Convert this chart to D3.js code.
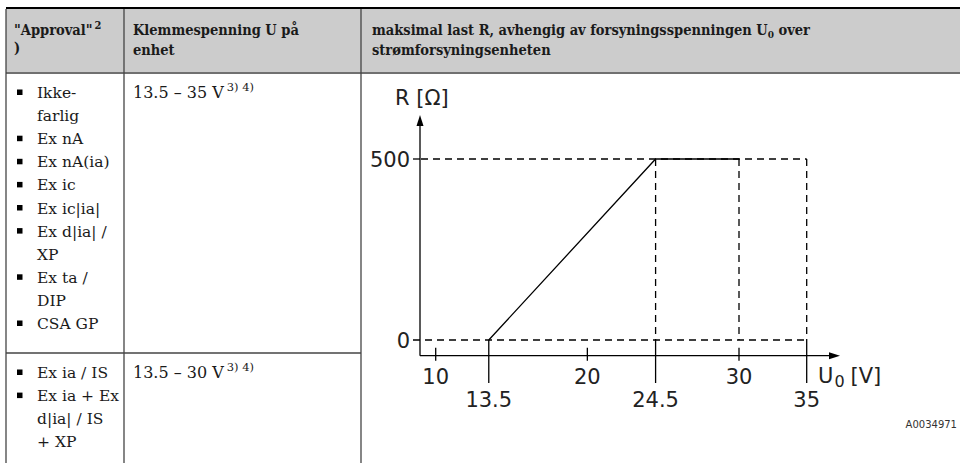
<!DOCTYPE html>
<html><head><meta charset="utf-8">
<script src="https://cdn.jsdelivr.net/npm/d3@7"></script>
<style>
html,body{margin:0;padding:0;background:#fff;}
svg{display:block;}
.tbl{font-family:"DejaVu Serif Condensed","DejaVu Serif",serif;fill:#1a1a1a;}
.body{font-family:"DejaVu Serif",serif;}
.chart{font-family:"DejaVu Sans",sans-serif;fill:#222;}
</style></head>
<body>
<svg id="c" width="960" height="463"></svg>
<script>
// ---- data ----
const headers = [["\"Approval\"", ")"], ["Klemmespenning U på", "enhet"], ["maksimal last R, avhengig av forsyningsspenningen U", "strømforsyningsenheten"]];
const row1Approvals = [["Ikke-", "farlig"], ["Ex nA"], ["Ex nA(ia)"], ["Ex ic"], ["Ex ic|ia|"], ["Ex d|ia| /", "XP"], ["Ex ta /", "DIP"], ["CSA GP"]];
const row2Approvals = [["Ex ia / IS"], ["Ex ia + Ex", "d|ia| / IS", "+ XP"]];
const voltageRanges = ["13.5 – 35 V", "13.5 – 30 V"];
const voltageNotes = "3) 4)";
// load curve: supply voltage U0 [V] vs max load R [Ohm]
const curveU = [13.5, 24.5, 30];
const curveR = [0, 500, 500];
const limitU = 35;
const xTicksTop = [10, 20, 30];
const xTicksBottom = [13.5, 24.5, 35];
const yTicks = [0, 500];
const figureId = "A0034971";

const svg = d3.select("#c");

// ---- table ----
svg.append("rect").attr("x", 6).attr("y", 8).attr("width", 954).attr("height", 65).attr("fill", "#cccccc");
svg.append("line").attr("x1", 6).attr("x2", 960).attr("y1", 8).attr("y2", 8).attr("stroke", "#000").attr("stroke-width", 2);
svg.append("line").attr("x1", 6).attr("x2", 960).attr("y1", 73).attr("y2", 73).attr("stroke", "#707070").attr("stroke-width", 2);
[6, 124, 361].forEach(x => svg.append("line").attr("x1", x).attr("x2", x).attr("y1", 9).attr("y2", 463).attr("stroke", "#444").attr("stroke-width", 1.3));
svg.append("line").attr("x1", 6).attr("x2", 361).attr("y1", 353).attr("y2", 353).attr("stroke", "#444").attr("stroke-width", 1.3);

const tg = svg.append("g").attr("class", "tbl");
// headers
const h1 = tg.append("text").attr("x", 14).attr("y", 35).attr("font-size", 14.5).attr("font-weight", "bold");
h1.append("tspan").text(headers[0][0]);
h1.append("tspan").attr("font-size", 11).attr("dy", -6).attr("dx", 2).text("2");
tg.append("text").attr("x", 14).attr("y", 53).attr("font-size", 14.5).attr("font-weight", "bold").text(headers[0][1]);
tg.append("text").attr("x", 133).attr("y", 35).attr("font-size", 14.5).attr("font-weight", "bold").text(headers[1][0]);
tg.append("text").attr("x", 133).attr("y", 55).attr("font-size", 14.5).attr("font-weight", "bold").text(headers[1][1]);
const h3 = tg.append("text").attr("x", 372).attr("y", 35).attr("font-size", 14.5).attr("font-weight", "bold");
h3.append("tspan").text(headers[2][0]);
h3.append("tspan").attr("font-size", 10).attr("dy", 3).text("0");
h3.append("tspan").attr("dy", -3).text(" over");
tg.append("text").attr("x", 372).attr("y", 55).attr("font-size", 14.5).attr("font-weight", "bold").text(headers[2][1]);

const bg = tg.append("g").attr("class", "body");
function bulletList(items, y0) {
  let y = y0;
  items.forEach(lines => {
    bg.append("rect").attr("x", 17).attr("y", y - 8.5).attr("width", 5.5).attr("height", 5.5).attr("fill", "#000");
    lines.forEach(l => {
      bg.append("text").attr("x", 37).attr("y", y).attr("font-size", 15.5).text(l);
      y += 23.1;
    });
  });
}
bulletList(row1Approvals, 98);
bulletList(row2Approvals, 378);

[[voltageRanges[0], 98], [voltageRanges[1], 378]].forEach(([t, y]) => {
  const tx = bg.append("text").attr("x", 133).attr("y", y).attr("font-size", 16);
  tx.append("tspan").text(t);
  tx.append("tspan").attr("font-size", 11.5).attr("dy", -7).attr("dx", 3).text(voltageNotes);
});

// ---- chart ----
const x = d3.scaleLinear().domain([10, 30, 35]).range([435.7, 739, 806.7]);
const y = d3.scaleLinear().domain([0, 500]).range([340, 159]);
const axisY = 355.7, axisX = 420;
const cg = svg.append("g").attr("class", "chart");
const sw = 1.3;
const dash = "7,5";

// axes
cg.append("line").attr("x1", axisX).attr("x2", axisX).attr("y1", axisY).attr("y2", 125).attr("stroke", "#000").attr("stroke-width", sw);
cg.append("path").attr("d", `M${axisX},115 L${axisX - 3.5},126 L${axisX + 3.5},126Z`).attr("fill", "#000");
cg.append("line").attr("x1", axisX).attr("x2", 830).attr("y1", axisY).attr("y2", axisY).attr("stroke", "#000").attr("stroke-width", sw);
cg.append("path").attr("d", `M840,${axisY} L829,${axisY - 3.5} L829,${axisY + 3.5}Z`).attr("fill", "#000");

// horizontal dashed guides
cg.append("line").attr("x1", 413).attr("x2", x(limitU)).attr("y1", y(0)).attr("y2", y(0))
  .attr("stroke", "#000").attr("stroke-width", sw).attr("stroke-dasharray", dash);
cg.append("line").attr("x1", axisX + 1).attr("x2", x(limitU)).attr("y1", y(500)).attr("y2", y(500))
  .attr("stroke", "#000").attr("stroke-width", sw).attr("stroke-dasharray", dash);
cg.append("line").attr("x1", 413).attr("x2", axisX).attr("y1", y(500)).attr("y2", y(500)).attr("stroke", "#000").attr("stroke-width", sw);

// vertical dashed guides
[curveU[1], curveU[2], limitU].forEach(v => {
  cg.append("line").attr("x1", x(v)).attr("x2", x(v)).attr("y1", y(500)).attr("y2", y(0))
    .attr("stroke", "#000").attr("stroke-width", sw).attr("stroke-dasharray", dash);
});

// ticks
xTicksTop.forEach(v => {
  cg.append("line").attr("x1", x(v)).attr("x2", x(v)).attr("y1", axisY - 8).attr("y2", axisY + 5).attr("stroke", "#000").attr("stroke-width", sw);
  cg.append("text").attr("x", x(v)).attr("y", 384).attr("text-anchor", "middle").attr("font-size", 21).text(v);
});
xTicksBottom.forEach(v => {
  cg.append("line").attr("x1", x(v)).attr("x2", x(v)).attr("y1", y(0)).attr("y2", 383).attr("stroke", "#000").attr("stroke-width", sw);
  cg.append("text").attr("x", x(v)).attr("y", 406.5).attr("text-anchor", "middle").attr("font-size", 21).text(v);
});
yTicks.forEach(v => {
  cg.append("text").attr("x", 410).attr("y", y(v) + 7.5).attr("text-anchor", "end").attr("font-size", 21).text(v);
});

// curve
const line = d3.line().x((d, i) => x(curveU[i])).y(d => y(d));
cg.append("path").datum(curveR).attr("d", line).attr("fill", "none").attr("stroke", "#000").attr("stroke-width", sw);

// axis labels
cg.append("text").attr("x", 395).attr("y", 105).attr("font-size", 21).text("R [Ω]");
const ux = cg.append("text").attr("x", 818).attr("y", 383).attr("font-size", 21);
ux.append("tspan").text("U");
ux.append("tspan").attr("font-size", 16).attr("dy", 4).attr("dx", 1).text("0");
ux.append("tspan").attr("dy", -4).attr("dx", 6).text("[V]");

cg.append("text").attr("x", 957).attr("y", 428).attr("text-anchor", "end").attr("font-size", 10).attr("fill", "#333").text(figureId);
</script>
</body></html>
